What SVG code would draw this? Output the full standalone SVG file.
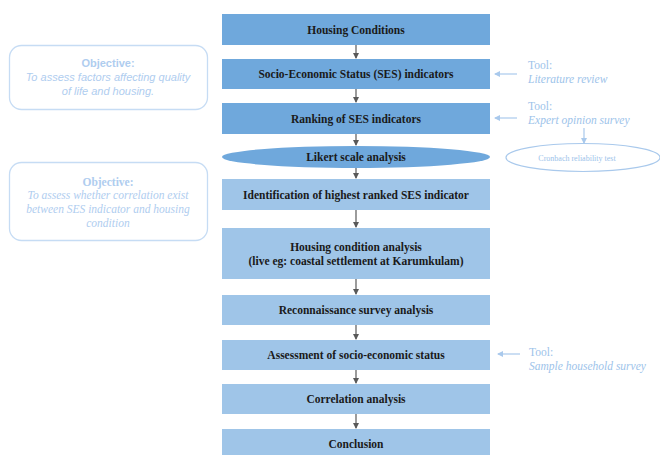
<svg xmlns="http://www.w3.org/2000/svg" width="660" height="455" viewBox="0 0 660 455">
<style>
.dk{fill:#6fa8dc}
.lt{fill:#9fc5e8}
.lbl{font-family:"Liberation Serif",serif;font-weight:bold;font-size:11.5px;fill:#1a1a1a;text-anchor:middle}
.obj{fill:none;stroke:#c6dcf4;stroke-width:1.3}
.conn{stroke:#595959;stroke-width:1.2;fill:none}
.tconn{stroke:#a9c9ec;stroke-width:1.2;fill:none}
.tool{font-family:"Liberation Serif",serif;font-size:11.5px;fill:#9dc3ea}
.it{font-style:italic}
.os{font-family:"Liberation Sans",sans-serif;font-size:11px;fill:#afcdef;text-anchor:middle}
.osr{font-family:"Liberation Serif",serif;font-size:11.5px;fill:#afcdef;text-anchor:middle}
</style>
<defs>
<marker id="ah" markerWidth="6" markerHeight="6" refX="5" refY="3" orient="auto" markerUnits="userSpaceOnUse"><path d="M0,0 L6,3 L0,6 z" fill="#595959"/></marker>
<marker id="ahl" markerWidth="6" markerHeight="6" refX="5" refY="3" orient="auto" markerUnits="userSpaceOnUse"><path d="M0,0 L6,3 L0,6 z" fill="#a9c9ec"/></marker>
</defs>
<rect width="660" height="455" fill="#ffffff"/>

<g id="n1"><rect class="dk" x="222" y="14" width="268" height="31"/><text class="lbl" x="356" y="33.5">Housing Conditions</text></g>
<g id="n2"><rect class="dk" x="222" y="59" width="268" height="30"/><text class="lbl" x="356" y="78">Socio-Economic Status (SES) indicators</text></g>
<g id="n3"><rect class="dk" x="222" y="103" width="268" height="31"/><text class="lbl" x="356" y="122.5">Ranking of SES indicators</text></g>
<g id="n4"><ellipse class="dk" cx="356" cy="157" rx="134" ry="11"/><text class="lbl" x="356" y="161">Likert scale analysis</text></g>
<g id="n5"><rect class="lt" x="222" y="179" width="268" height="31"/><text class="lbl" x="356" y="198.5">Identification of highest ranked SES indicator</text></g>
<g id="n6"><rect class="lt" x="222" y="228" width="268" height="51"/><text class="lbl" x="356" y="251">Housing condition analysis</text><text class="lbl" x="356" y="265">(live eg: coastal settlement at Karumkulam)</text></g>
<g id="n7"><rect class="lt" x="222" y="295" width="268" height="30"/><text class="lbl" x="356" y="314">Reconnaissance survey analysis</text></g>
<g id="n8"><rect class="lt" x="222" y="340" width="268" height="30"/><text class="lbl" x="356" y="359">Assessment of socio-economic status</text></g>
<g id="n9"><rect class="lt" x="222" y="384" width="268" height="30"/><text class="lbl" x="356" y="403">Correlation analysis</text></g>
<g id="n10"><rect class="lt" x="222" y="429" width="268" height="30"/><text class="lbl" x="356" y="448">Conclusion</text></g>

<g id="obj1"><rect class="obj" x="9.5" y="45.5" width="198" height="64" rx="12"/>
<text class="os" x="108" y="67" font-weight="bold">Objective:</text>
<text class="os it" x="108" y="81">To assess factors affecting quality</text>
<text class="os it" x="108" y="95">of life and housing.</text></g>

<g id="obj2"><rect class="obj" x="9.5" y="162.5" width="198" height="78" rx="12"/>
<text class="osr" x="108" y="186" font-weight="bold">Objective:</text>
<text class="osr it" x="108" y="199">To assess whether correlation exist</text>
<text class="osr it" x="108" y="213">between SES indicator and housing</text>
<text class="osr it" x="108" y="227">condition</text></g>

<g id="tool1"><text class="tool" x="528" y="69">Tool:</text><text class="tool it" x="528" y="83">Literature review</text></g>
<g id="tool2"><text class="tool" x="528" y="110">Tool:</text><text class="tool it" x="528" y="124">Expert opinion survey</text></g>
<g id="cron"><ellipse cx="583" cy="157.5" rx="77" ry="14" fill="none" stroke="#a9c9ec" stroke-width="1.2"/><text x="577" y="161" text-anchor="middle" font-family="Liberation Serif,serif" font-size="8px" fill="#9dc3ea">Cronbach reliability test</text></g>
<g id="tool3"><text class="tool" x="529" y="356">Tool:</text><text class="tool it" x="529" y="370">Sample household survey</text></g>

<g id="connectors">
<line class="conn" x1="356" y1="45" x2="356" y2="58" marker-end="url(#ah)"/>
<line class="conn" x1="356" y1="89" x2="356" y2="102" marker-end="url(#ah)"/>
<line class="conn" x1="356" y1="134" x2="356" y2="145" marker-end="url(#ah)"/>
<line class="conn" x1="356" y1="168" x2="356" y2="178" marker-end="url(#ah)"/>
<line class="conn" x1="356" y1="210" x2="356" y2="227" marker-end="url(#ah)"/>
<line class="conn" x1="356" y1="279" x2="356" y2="294" marker-end="url(#ah)"/>
<line class="conn" x1="356" y1="325" x2="356" y2="339" marker-end="url(#ah)"/>
<line class="conn" x1="356" y1="370" x2="356" y2="383" marker-end="url(#ah)"/>
<line class="conn" x1="356" y1="414" x2="356" y2="428" marker-end="url(#ah)"/>
<line class="tconn" x1="517" y1="74" x2="495" y2="74" marker-end="url(#ahl)"/>
<line class="tconn" x1="517" y1="118" x2="495" y2="118" marker-end="url(#ahl)"/>
<line class="tconn" x1="584" y1="128" x2="584" y2="143" marker-end="url(#ahl)"/>
<line class="tconn" x1="520" y1="354" x2="498" y2="354" marker-end="url(#ahl)"/>
</g>
</svg>
